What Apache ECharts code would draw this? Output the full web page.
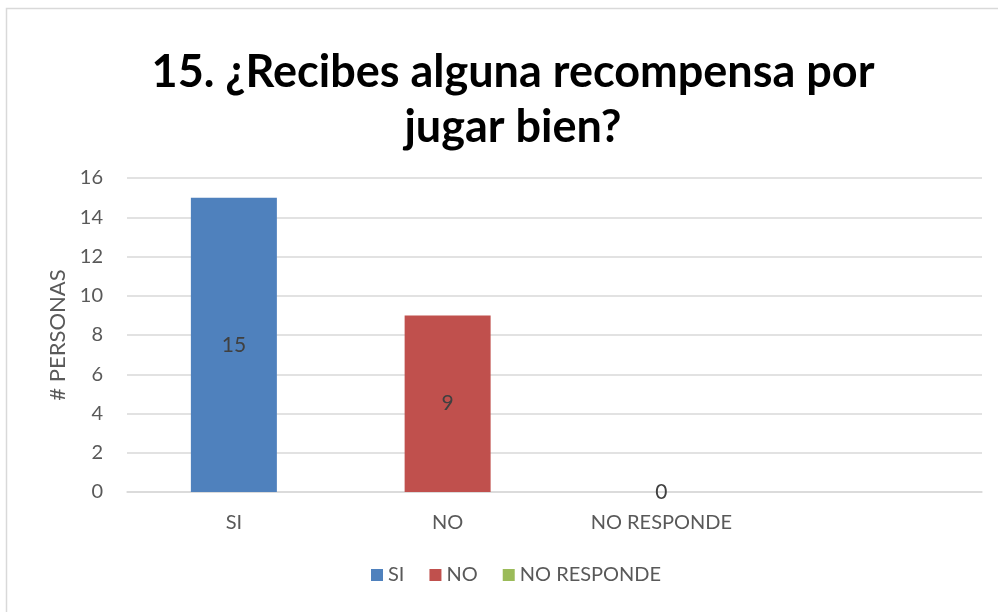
<!DOCTYPE html>
<html>
<head>
<meta charset="utf-8">
<script src="https://cdn.jsdelivr.net/npm/echarts@6/dist/echarts.min.js"></script>
<style>
html, body { margin: 0; padding: 0; background: #fff; }
#chart { width: 998px; height: 612px; }
</style>
</head>
<body>
<div id="chart"></div>
<script>
// datos
const categorias = ['SI', 'NO', 'NO RESPONDE', ''];
const series_nombres = ['SI', 'NO', 'NO RESPONDE'];
const valores = [15, 9, 0];
const colores = ['#4f81bd', '#c0504d', '#9bbb59'];
const ticks_y = [0, 2, 4, 6, 8, 10, 12, 14, 16];

const fuente = 'Lato, "Open Sans", sans-serif';

let chart = echarts.init(document.getElementById('chart'), null, { renderer: 'canvas' });

// cada serie solo tiene valor en su propia categoría
let series = series_nombres.map((nombre, i) => {
	let data = categorias.map((c, j) => (j === i ? valores[i] : '-'));
	return {
		name: nombre,
		type: 'bar',
		stack: 'total',
		barWidth: 86,
		data: data,
		itemStyle: { color: colores[i] },
		label: {
			show: true,
			position: 'inside',
			color: '#404040',
			fontSize: 21,
			fontFamily: fuente,
		},
	};
});

let option = {
	animation: false,
	backgroundColor: '#fff',
	title: {
		text: '15. ¿Recibes alguna recompensa por\njugar bien?',
		left: 508,
		textAlign: 'center',
		top: 40,
		textStyle: {
			fontFamily: fuente,
			fontWeight: 'bold',
			fontSize: 45,
			lineHeight: 55,
			color: '#000',
		},
	},
	legend: {
		data: series_nombres,
		bottom: 22,
		left: 366,
		itemWidth: 12,
		itemHeight: 12,
		itemGap: 25,
		icon: 'rect',
		textStyle: { fontFamily: fuente, fontSize: 20, color: '#595959' },
	},
	grid: {
		left: 127,
		right: 16,
		top: 178,
		bottom: 120,
	},
	xAxis: {
		type: 'category',
		data: categorias,
		axisLine: { lineStyle: { color: '#d9d9d9', width: 1.5 } },
		axisTick: { show: false },
		axisLabel: { color: '#595959', fontSize: 20, fontFamily: fuente, margin: 21 },
	},
	yAxis: {
		type: 'value',
		min: ticks_y[0],
		max: ticks_y[ticks_y.length - 1],
		interval: 2,
		name: '# PERSONAS',
		nameLocation: 'middle',
		nameGap: 56,
		nameTextStyle: { color: '#595959', fontSize: 22, fontFamily: fuente },
		axisLine: { show: false },
		axisTick: { show: false },
		axisLabel: { color: '#595959', fontSize: 20, fontFamily: fuente, margin: 24 },
		splitLine: { lineStyle: { color: '#d9d9d9', width: 1.5 } },
	},
	graphic: [
		{
			type: 'rect',
			shape: { x: 6.5, y: 8.5, width: 1100, height: 700 },
			style: { fill: 'none', stroke: '#d9d9d9', lineWidth: 1.5 },
			silent: true,
		},
	],
	series: series,
};

chart.setOption(option);
</script>
</body>
</html>
